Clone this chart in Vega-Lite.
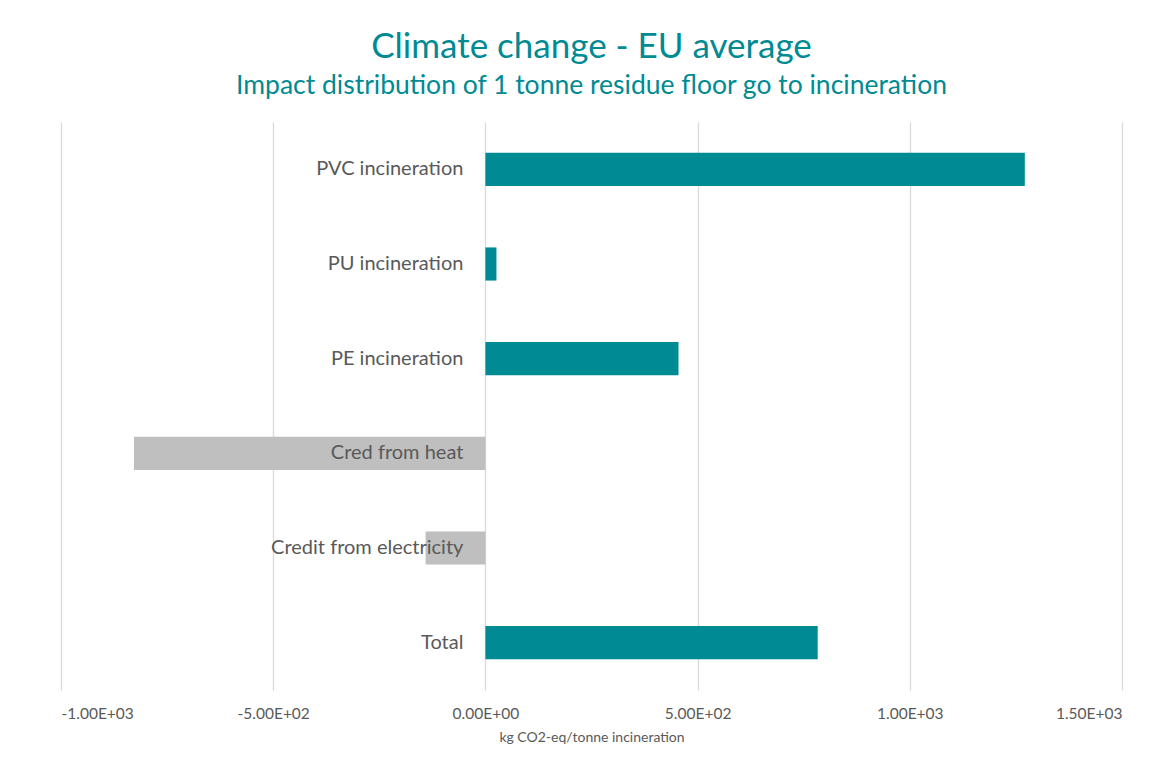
{
  "$schema": "https://vega.github.io/schema/vega-lite/v6.json",
  "autosize": "none",
  "width": 1061,
  "height": 568,
  "padding": {"left": 61, "top": 122, "right": 49, "bottom": 70},
  "background": "white",
  "config": {"view": {"stroke": null}, "font": "Lato"},
  "title": {
    "text": "Climate change - EU average",
    "subtitle": "Impact distribution of 1 tonne residue floor go to incineration",
    "anchor": "middle",
    "color": "#008A93",
    "subtitleColor": "#008A93",
    "fontSize": 35,
    "subtitleFontSize": 26.5,
    "fontWeight": "normal",
    "font": "Lato",
    "subtitleFont": "Lato",
    "subtitlePadding": 8,
    "offset": 23
  },
  "data": {
    "values": [
      {"category": "PVC incineration", "value": 1271},
      {"category": "PU incineration", "value": 26},
      {"category": "PE incineration", "value": 455},
      {"category": "Cred from heat", "value": -828},
      {"category": "Credit from electricity", "value": -141},
      {"category": "Total", "value": 783}
    ]
  },
  "encoding": {
    "y": {
      "field": "category",
      "type": "nominal",
      "sort": null,
      "scale": {"paddingInner": 0.65, "paddingOuter": 0.325},
      "axis": null
    }
  },
  "layer": [
    {
      "mark": {"type": "bar"},
      "encoding": {
        "x": {
          "field": "value",
          "type": "quantitative",
          "scale": {"domain": [-1000, 1500], "nice": false, "zero": false},
          "axis": {
            "values": [-1000, -500, 0, 500, 1000, 1500],
            "labelExpr": "datum.value == -1000 ? '-1.00E+03' : datum.value == -500 ? '-5.00E+02' : datum.value == 0 ? '0.00E+00' : datum.value == 500 ? '5.00E+02' : datum.value == 1000 ? '1.00E+03' : '1.50E+03'",
            "title": "kg CO2-eq/tonne incineration",
            "grid": true,
            "gridColor": "#D9D9D9",
            "gridWidth": 1.3,
            "domain": false,
            "ticks": false,
            "labelPadding": 16,
            "labelFontSize": 15.5,
            "labelColor": "#595959",
            "labelFont": "Lato",
            "titleFont": "Lato",
            "titleFontSize": 14,
            "titleFontWeight": "normal",
            "titleColor": "#595959",
            "titlePadding": 9
          }
        },
        "color": {
          "condition": {"test": "datum.value < 0", "value": "#BFBFBF"},
          "value": "#008A93"
        }
      }
    },
    {
      "mark": {
        "type": "text",
        "align": "right",
        "baseline": "middle",
        "dx": -22,
        "fontSize": 20,
        "color": "#595959",
        "font": "Lato"
      },
      "encoding": {
        "x": {"datum": 0, "type": "quantitative"},
        "text": {"field": "category"}
      }
    }
  ]
}
